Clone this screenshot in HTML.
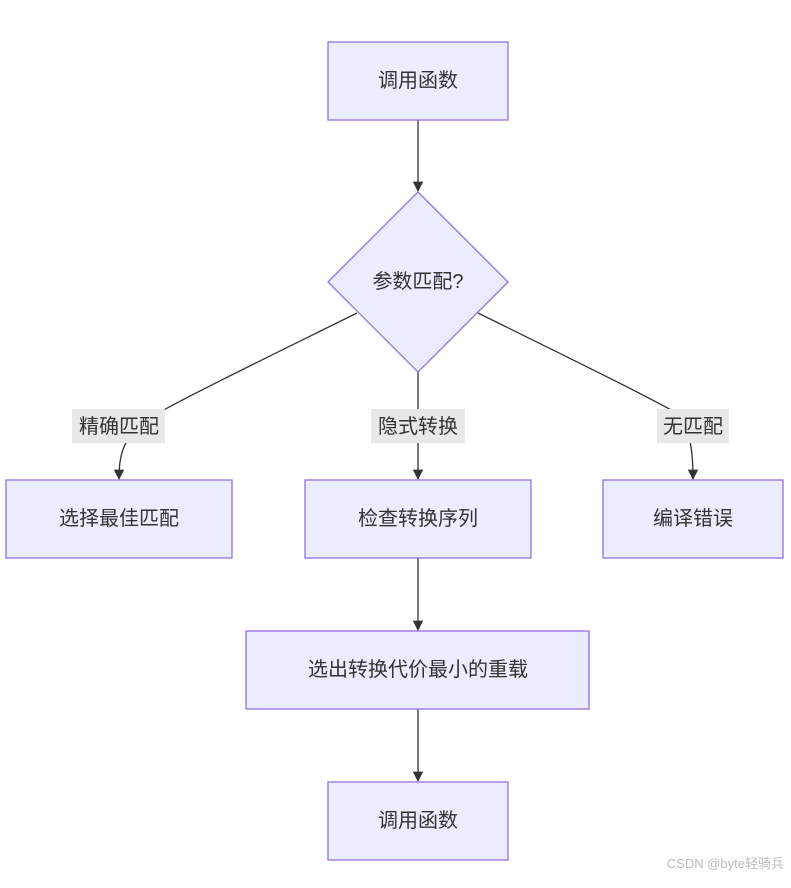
<!DOCTYPE html>
<html><head><meta charset="utf-8"><style>
html,body{margin:0;padding:0;background:#fff;}
svg text{font-family:"Liberation Sans","Noto Sans CJK SC",sans-serif;}
</style></head><body>
<svg width="791" height="883" viewBox="0 0 791 883" xmlns="http://www.w3.org/2000/svg">
<defs><marker id="a" viewBox="0 0 10 10" refX="9" refY="5" markerWidth="8" markerHeight="8" orient="auto"><path d="M0,0L10,5L0,10z" fill="#333"/></marker></defs>
<g fill="none" stroke="#333" stroke-width="1.3">
<path d="M418,120V191" marker-end="url(#a)"/>
<path d="M357,313C270,356 200,390 160,412C125,432 119,450 119,479" marker-end="url(#a)"/>
<path d="M418,372V479" marker-end="url(#a)"/>
<path d="M478,313C565,356 635,390 675,412C690,425 693,450 693,479" marker-end="url(#a)"/>
<path d="M418,558V630" marker-end="url(#a)"/>
<path d="M418,709V781" marker-end="url(#a)"/>
</g>
<g fill="#ececff" stroke="#9370db" stroke-width="1.3">
<rect x="328" y="42" width="180" height="78"/>
<polygon points="418,192 508,282 418,372 328,282"/>
<rect x="6" y="480" width="226" height="78"/>
<rect x="305" y="480" width="226" height="78"/>
<rect x="603" y="480" width="180" height="78"/>
<rect x="246" y="631" width="343" height="78"/>
<rect x="328" y="782" width="180" height="78"/>
</g>
<g fill="#e8e8e8">
<rect x="72" y="409" width="93" height="34"/>
<rect x="371" y="409" width="94" height="34"/>
<rect x="657" y="409" width="72" height="34"/>
</g>
<g fill="#333" font-size="20" text-anchor="middle" dominant-baseline="central">
<text x="418" y="81">调用函数</text>
<text x="418" y="282">参数匹配?</text>
<text x="119" y="427">精确匹配</text>
<text x="418" y="427">隐式转换</text>
<text x="693" y="427">无匹配</text>
<text x="119" y="519">选择最佳匹配</text>
<text x="418" y="519">检查转换序列</text>
<text x="693" y="519">编译错误</text>
<text x="418" y="670">选出转换代价最小的重载</text>
<text x="418" y="821">调用函数</text>
</g>
<text x="784" y="868" font-size="13" fill="#bbb" text-anchor="end">CSDN @byte轻骑兵</text>
</svg>
</body></html>
